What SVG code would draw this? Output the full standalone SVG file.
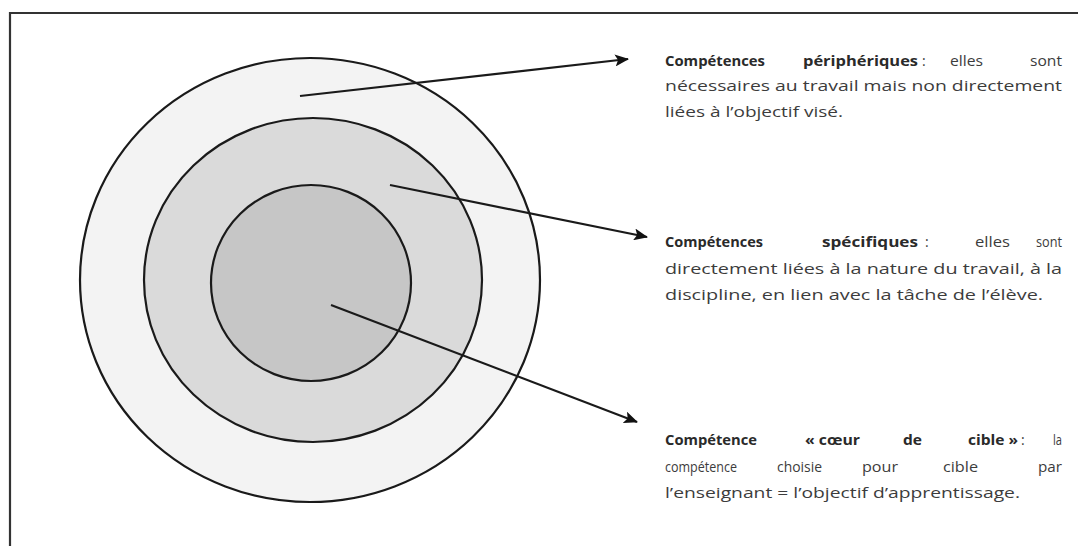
<svg xmlns="http://www.w3.org/2000/svg" width="1078" height="546" viewBox="0 0 1078 546">
<defs>
<marker id="arr" markerUnits="userSpaceOnUse" markerWidth="14" markerHeight="12" refX="13" refY="6" orient="auto">
<path d="M0,0 L14,6 L0,12 L3,6 Z" fill="#111"/>
</marker>
<style>
.ring{stroke:#1a1a1a;stroke-width:2.2}
.conn{stroke:#1a1a1a;stroke-width:2.2;fill:none}
.b{font-family:"Open Sans","Liberation Sans",sans-serif;font-size:14px;font-weight:bold;fill:#2a2a2a}
.r{font-family:"Open Sans","Liberation Sans",sans-serif;font-size:14px;fill:#3c3c3c}
</style>
</defs>
<rect width="1078" height="546" fill="#fff"/>
<path d="M10,546 V13 H1078" fill="none" stroke="#333" stroke-width="2.2"/>
<g id="outer"><ellipse class="ring" cx="310" cy="280" rx="230" ry="222" fill="#f3f3f3"/></g>
<g id="middle"><ellipse class="ring" cx="313" cy="280" rx="169" ry="162" fill="#dadada"/></g>
<g id="inner"><ellipse class="ring" cx="311" cy="283" rx="100" ry="98" fill="#c6c6c6"/></g>
<g id="connectors">
<line class="conn" x1="300" y1="96" x2="628" y2="59" marker-end="url(#arr)"/>
<line class="conn" x1="390" y1="185" x2="647" y2="237" marker-end="url(#arr)"/>
<line class="conn" x1="331" y1="305" x2="637" y2="422" marker-end="url(#arr)"/>
</g>
<g id="label-peripheriques">
<text class="b" x="665" y="66" textLength="100" lengthAdjust="spacingAndGlyphs">Compétences</text>
<text class="b" x="803" y="66" textLength="115" lengthAdjust="spacingAndGlyphs">périphériques</text>
<text class="r" x="922" y="66">:</text>
<text class="r" x="950" y="66" textLength="33" lengthAdjust="spacingAndGlyphs">elles</text>
<text class="r" x="1030" y="66" textLength="32" lengthAdjust="spacingAndGlyphs">sont</text>
<text class="r" x="665" y="91" textLength="397" lengthAdjust="spacingAndGlyphs">nécessaires au travail mais non directement</text>
<text class="r" x="665" y="117" textLength="178" lengthAdjust="spacingAndGlyphs">liées à l’objectif visé.</text>
</g>
<g id="label-specifiques">
<text class="b" x="665" y="247" textLength="98" lengthAdjust="spacingAndGlyphs">Compétences</text>
<text class="b" x="822" y="247" textLength="96" lengthAdjust="spacingAndGlyphs">spécifiques</text>
<text class="r" x="925" y="247">:</text>
<text class="r" x="975" y="247" textLength="35" lengthAdjust="spacingAndGlyphs">elles</text>
<text class="r" x="1036" y="247" textLength="26" lengthAdjust="spacingAndGlyphs">sont</text>
<text class="r" x="665" y="274" textLength="397" lengthAdjust="spacingAndGlyphs">directement liées à la nature du travail, à la</text>
<text class="r" x="665" y="300" textLength="378" lengthAdjust="spacingAndGlyphs">discipline, en lien avec la tâche de l’élève.</text>
</g>
<g id="label-coeur">
<text class="b" x="665" y="445" textLength="92" lengthAdjust="spacingAndGlyphs">Compétence</text>
<text class="b" x="805" y="445" textLength="55" lengthAdjust="spacingAndGlyphs">« cœur</text>
<text class="b" x="903" y="445" textLength="19" lengthAdjust="spacingAndGlyphs">de</text>
<text class="b" x="968" y="445" textLength="50" lengthAdjust="spacingAndGlyphs">cible »</text>
<text class="r" x="1021" y="445">:</text>
<text class="r" x="1053" y="445" textLength="9" lengthAdjust="spacingAndGlyphs">la</text>
<text class="r" x="665" y="472" textLength="72" lengthAdjust="spacingAndGlyphs">compétence</text>
<text class="r" x="777" y="472" textLength="45" lengthAdjust="spacingAndGlyphs">choisie</text>
<text class="r" x="862" y="472" textLength="36" lengthAdjust="spacingAndGlyphs">pour</text>
<text class="r" x="943" y="472" textLength="35" lengthAdjust="spacingAndGlyphs">cible</text>
<text class="r" x="1038" y="472" textLength="24" lengthAdjust="spacingAndGlyphs">par</text>
<text class="r" x="665" y="498" textLength="355" lengthAdjust="spacingAndGlyphs">l’enseignant = l’objectif d’apprentissage.</text>
</g>
</svg>
